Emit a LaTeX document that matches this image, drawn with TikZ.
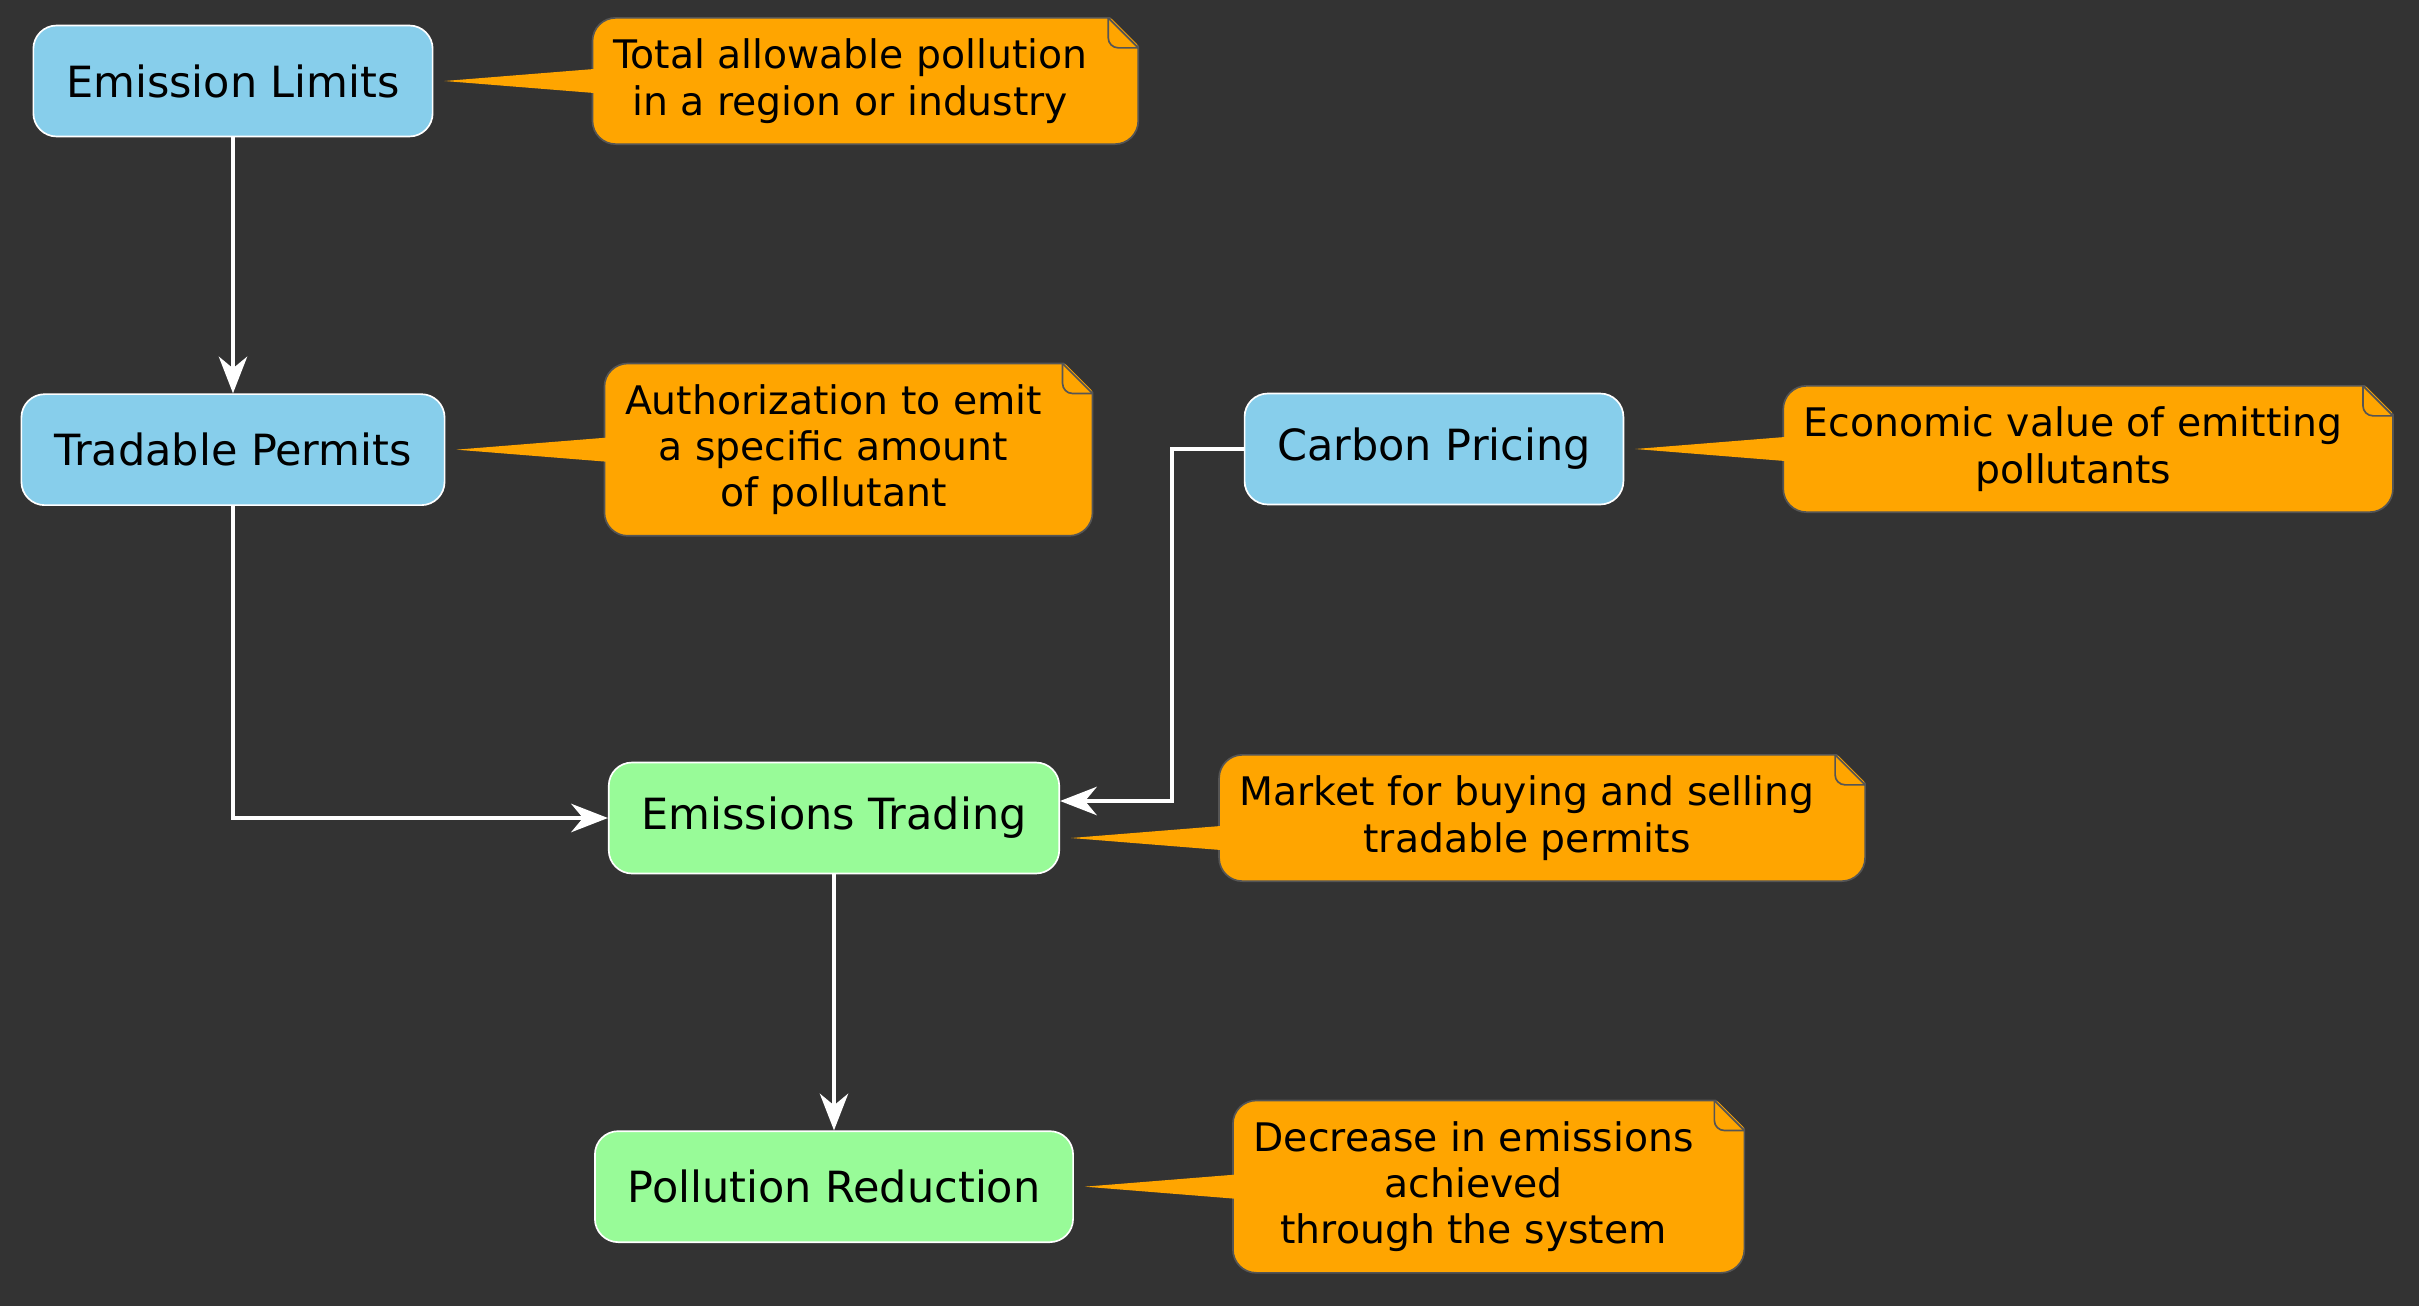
\documentclass[tikz,border=0pt]{standalone}
\usepackage{fontspec}
\setmainfont{DejaVu Sans}
\usepackage{xcolor}
\usepackage{tikz}
\usetikzlibrary{positioning,arrows.meta,backgrounds}
\definecolor{bgcol}{HTML}{333333}
\definecolor{skycol}{HTML}{87CEEB}
\definecolor{mintcol}{HTML}{98FB98}
\definecolor{notecol}{HTML}{FFA500}
\definecolor{edgecol}{HTML}{555555}
\newcommand{\fontbox}{\fontsize{12.9pt}{15pt}\selectfont}
\newcommand{\fontnote}{\fontsize{11.8pt}{13.9pt}\selectfont}
\tikzset{
  box/.style={draw=white, line width=0.5pt, rounded corners=7pt, inner xsep=9.8pt, inner ysep=0pt, minimum height=33.3pt, font=\fontbox, text=black},
  skybox/.style={box, fill=skycol},
  mintbox/.style={box, fill=mintcol},
  note/.style={font=\fontnote, align=center, inner xsep=6pt, inner ysep=0pt, minimum height=37.5pt, text=black, right=47.7pt of #1},
  tallnote/.style={note=#1, minimum height=51.3pt},
  flow/.style={draw=white, line width=1.2pt, ->},
  >={Stealth[length=11pt, width=8.5pt, inset=3.5pt]}
}

\begin{document}
\begin{tikzpicture}[x=0.3pt, y=-0.3pt]
\useasboundingbox (0,0) rectangle (2419,1306);

\node[skybox] (lim) at (233,81) {Emission Limits};
\node[skybox, below=76.8pt of lim] (per) {Tradable Permits};
\node[skybox] (car) at (1434,449) {Carbon Pricing};
\node[mintbox] (tra) at (834,818) {Emissions Trading};
\node[mintbox, below=76.8pt of tra] (red) {Pollution Reduction};

\node[note=lim] (nLim) {Total allowable pollution\\in a region or industry};
\node[tallnote=per] (nPer) {Authorization to emit\\a specific amount\\of pollutant};
\node[note=car] (nCar) {Economic value of emitting\\pollutants};
\node[note=tra] (nTra) {Market for buying and selling\\tradable permits};
\node[tallnote=red] (nRed) {Decrease in emissions\\achieved\\through the system};

\begin{scope}[on background layer]
\fill[bgcol] (0,0) rectangle (2419,1306);
\foreach \n in {nLim,nPer,nCar,nTra,nRed} {
  \filldraw[fill=notecol, draw=edgecol, line width=0.5pt, rounded corners=7pt] (\n.south west) rectangle ([xshift=9pt]\n.north east);
  \fill[bgcol] ([xshift=-0.2pt,yshift=1pt]\n.north east) -- ([xshift=10pt,yshift=1pt]\n.north east) -- ([xshift=10pt,yshift=-9.2pt]\n.north east) -- cycle;
  \draw[edgecol, line width=0.5pt] (\n.north east) -- ([xshift=9pt,yshift=-9pt]\n.north east);
  \draw[edgecol, line width=0.5pt, rounded corners=3pt] (\n.north east) -- ([yshift=-9pt]\n.north east) -- ([xshift=9pt,yshift=-9pt]\n.north east);
}
\end{scope}

\foreach \a/\b/\d in {lim/nLim/0pt, per/nPer/0pt, car/nCar/0pt, tra/nTra/-6pt, red/nRed/0pt}
  \fill[notecol] ([xshift=3.3pt,yshift=\d]\a.east) -- ([xshift=0.5pt,yshift=\d+3.6pt]\b.west) -- ([xshift=0.5pt,yshift=\d-3.6pt]\b.west) -- cycle;

\coordinate (bend) at (1172,801);
\draw[flow] (lim) -- (per);
\draw[flow] (per.south) |- (tra.west);
\draw[flow] (car.west) -| (bend) -- (bend -| tra.east);
\draw[flow] (tra) -- (red);
\end{tikzpicture}
\end{document}
